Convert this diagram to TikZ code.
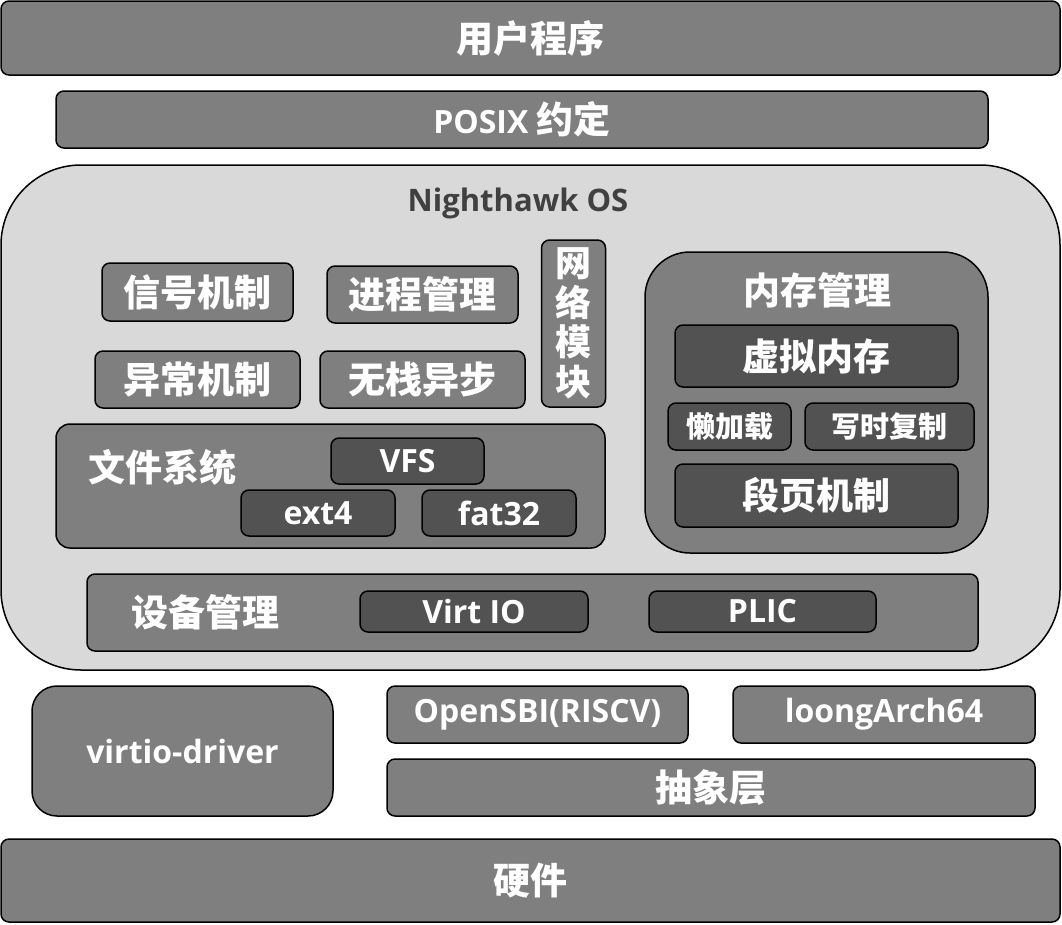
\documentclass[tikz,border=0pt]{standalone}
\usepackage{fontspec}
\setmainfont{Open Sans}
\newfontfamily\cjk{Noto Sans CJK SC}
\usepackage{tikz}

\definecolor{boxgray}{HTML}{7F7F7F}
\definecolor{subgray}{HTML}{525252}
\definecolor{osgray}{HTML}{D9D9D9}
\definecolor{titlegray}{HTML}{404040}

\newcommand{\zh}[2][37]{{\cjk\fontsize{#1}{#1}\selectfont #2}}
\newcommand{\en}[2][32]{{\fontsize{#1}{#1}\selectfont #2}}

\begin{document}
\begin{tikzpicture}[x=1pt,y=-1pt,
    layer/.style={draw=black, line width=1.5pt, fill=boxgray, rounded corners=8pt,
      text=white, font=\bfseries, inner sep=0pt},
    sublayer/.style={layer, fill=subgray},
    label/.style={text=white, font=\bfseries, inner sep=0pt}]
  \useasboundingbox (0,0) rectangle (1062,924);

  \node[layer, minimum width=1059, minimum height=74] (user) at (530.5,38) {\zh{用户程序}};
  \node[layer, minimum width=932, minimum height=57] (posix) at (522,119.5) {\en{POSIX~}\zh{约定}};

  \node[layer, fill=osgray, rounded corners=80pt, minimum width=1059, minimum height=505] (os) at (530.5,417.5) {};
  \node[label, text=titlegray] (ostitle) at (518,203) {\en[31]{Nighthawk OS}};

  \node[layer, minimum width=191, minimum height=58] (signal) at (197.5,292) {\zh{信号机制}};
  \node[layer, minimum width=191, minimum height=57] (proc) at (422.5,294.5) {\zh{进程管理}};
  \node[layer, minimum width=205, minimum height=57] (except) at (197.5,379.5) {\zh{异常机制}};
  \node[layer, minimum width=205, minimum height=57] (async) at (422.5,379.5) {\zh{无栈异步}};
  \node[layer, minimum width=64, minimum height=167, align=center,
    font=\cjk\bfseries\fontsize{36}{39.5}\selectfont] (net) at (573.5,323.5) {网\\络\\模\\块};

  \node[layer, minimum width=549, minimum height=124, rounded corners=14pt] (fs) at (330.5,486) {};
  \node[label] (fstitle) at (162,467) {\zh{文件系统}};
  \node[sublayer, minimum width=153, minimum height=46] (vfs) at (407.5,461) {\en{VFS}};
  \node[sublayer, minimum width=154, minimum height=46] (ext) at (318,513) {\en{ext4}};
  \node[sublayer, minimum width=154, minimum height=46] (fat) at (499,513) {\en{fat32}};

  \node[layer, minimum width=343, minimum height=301, rounded corners=45pt] (mem) at (816.5,402.5) {};
  \node[label] (memtitle) at (817,290) {\zh{内存管理}};
  \node[sublayer, minimum width=283, minimum height=62] (vmem) at (816.5,356) {\zh{虚拟内存}};
  \node[sublayer, minimum width=123, minimum height=47] (lazy) at (729.5,426.5) {\zh[29]{懒加载}};
  \node[sublayer, minimum width=169, minimum height=47] (cow) at (889.5,426.5) {\zh[29]{写时复制}};
  \node[sublayer, minimum width=283, minimum height=63] (segpage) at (816.5,495.5) {\zh{段页机制}};

  \node[layer, minimum width=891, minimum height=77] (dev) at (532.5,612.5) {};
  \node[label] (devtitle) at (205,612) {\zh{设备管理}};
  \node[sublayer, minimum width=228, minimum height=41] (virtio) at (474,611.5) {\en{Virt IO}};
  \node[sublayer, minimum width=227, minimum height=41] (plic) at (762.5,611.5) {\en{PLIC}};

  \node[layer, minimum width=301, minimum height=130, rounded corners=25pt] (driver) at (182.5,751) {\en{virtio-driver}};
  \node[layer, minimum width=301, minimum height=57] (sbi) at (537.5,714.5) {\en{OpenSBI(RISCV)}};
  \node[layer, minimum width=302, minimum height=57] (loong) at (884,714.5) {\en{loongArch64}};
  \node[layer, minimum width=648, minimum height=57] (hal) at (711,787.5) {\zh{抽象层}};

  \node[layer, minimum width=1059, minimum height=83] (hw) at (530.5,880.5) {\zh{硬件}};
\end{tikzpicture}
\end{document}
